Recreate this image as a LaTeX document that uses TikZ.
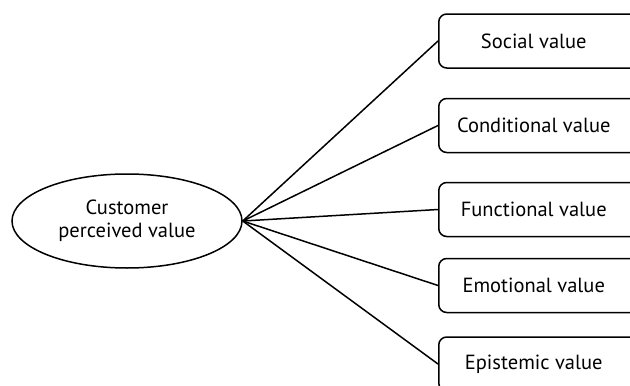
\documentclass[tikz,border=0pt]{standalone}
\usepackage{fontspec}
\setmainfont{PT Sans}
\usetikzlibrary{shapes.geometric,positioning}
\tikzset{
  cpv/.style={draw,ellipse,line width=1.5pt,minimum width=230pt,minimum height=94pt,inner sep=0pt,align=center},
  valuebox/.style={draw,line width=1.5pt,rounded corners=8pt,minimum width=214pt,minimum height=54pt,anchor=west},
  link/.style={line width=1.5pt}
}
\begin{document}
\begin{tikzpicture}[x=1pt,y=-1pt,font=\fontsize{20.5}{23}\selectfont]
\useasboundingbox (0,0) rectangle (630,386);\clip (0,0) rectangle (630,386);
\node[cpv] (cust) at (127,221) {Customer\\perceived value};
% value dimensions
\node[valuebox,label={[xshift=-12pt]center:Social value}] (social) at (438,41) {};
\node[valuebox,label={[xshift=-12pt]center:Conditional value}] (cond) at (438,125.5) {};
\node[valuebox,label={[xshift=-12pt]center:Functional value}] (func) at (438,209.5) {};
\node[valuebox,label={[xshift=-12pt]center:Emotional value}] (emot) at (438,285.5) {};
\node[valuebox,label={[xshift=-12pt]center:Epistemic value}] (epis) at (438,364) {};
\draw[link] (cust.east)--(social.west);\draw[link] (cust.east)--(cond.west);
\draw[link] (cust.east)--(func.west);\draw[link] (cust.east)--(emot.west);
\draw[link] (cust.east)--(epis.west);
\end{tikzpicture}
\end{document}
